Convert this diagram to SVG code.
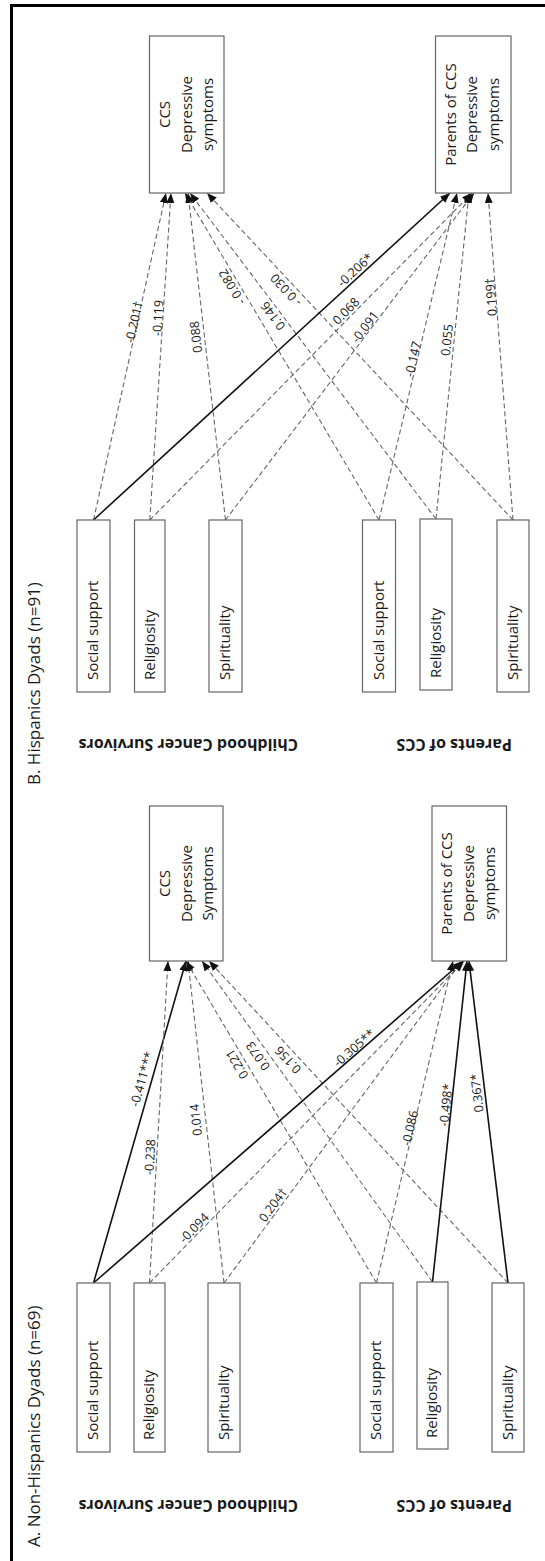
<svg xmlns="http://www.w3.org/2000/svg" width="545" height="1561" viewBox="0 0 545 1561">
<defs>
<marker id="arr" markerUnits="userSpaceOnUse" markerWidth="11" markerHeight="9" refX="10" refY="4" orient="auto">
<path d="M0,0 L10,4 L0,8 z" fill="#111"/>
</marker>
<style>
.box{fill:#fff;stroke:#666;stroke-width:1.2}
.nt{font-family:"Open Sans","DejaVu Sans",sans-serif;font-size:15px;fill:#1a1a1a}
.gl{font-family:"Open Sans","DejaVu Sans",sans-serif;font-size:16px;font-weight:bold;fill:#1a1a1a}
.ti{font-family:"Open Sans","DejaVu Sans",sans-serif;font-size:17px;fill:#1a1a1a}
.lb{font-family:"Open Sans","DejaVu Sans",sans-serif;font-size:12.5px;fill:#1a1a1a;text-anchor:middle}
.d{fill:none;stroke:#666;stroke-width:1.1;stroke-dasharray:5 3;marker-end:url(#arr)}
.s{fill:none;stroke:#111;stroke-width:1.6;marker-end:url(#arr)}
</style>
</defs>
<rect width="545" height="1561" fill="#fff"/>
<path d="M11.5,1561 V5.5 H545" fill="none" stroke="#000" stroke-width="3"/>

<!-- titles -->
<text class="ti" transform="translate(40,785) rotate(-90)">B. Hispanics Dyads (n=91)</text>
<text class="ti" transform="translate(40,1547) rotate(-90)">A. Non-Hispanics Dyads (n=69)</text>

<!-- group labels -->
<text class="gl" transform="translate(298,739) rotate(180)">Childhood Cancer Survivors</text>
<text class="gl" transform="translate(512,739) rotate(180)">Parents of CCS</text>
<text class="gl" transform="translate(298,1500) rotate(180)">Childhood Cancer Survivors</text>
<text class="gl" transform="translate(512,1500) rotate(180)">Parents of CCS</text>

<!-- connectors -->
<g id="connectors">
<path class="d" d="M93.5,520 L166,193"/>
<path class="d" d="M149.8,520 L171,193"/>
<path class="d" d="M225.5,520 L188,193"/>
<path class="d" d="M379,520 L185,193"/>
<path class="d" d="M436,519 L190,193"/>
<path class="d" d="M513,520 L207,193"/>
<path class="s" d="M93.5,520 L450,193"/>
<path class="d" d="M149.8,520 L472,193"/>
<path class="d" d="M225.5,520 L474,193"/>
<path class="d" d="M379,520 L457,193"/>
<path class="d" d="M436,519 L469,193"/>
<path class="d" d="M513,520 L488,193"/>

<path class="s" d="M93.5,1283 L186,961"/>
<path class="d" d="M149.5,1283 L168,961"/>
<path class="d" d="M224,1283 L188,961"/>
<path class="d" d="M376.5,1283 L186,961"/>
<path class="d" d="M432.5,1282 L202,961"/>
<path class="d" d="M508,1283 L209,961"/>
<path class="s" d="M93.5,1283 L463,961"/>
<path class="d" d="M149.5,1283 L464,961"/>
<path class="d" d="M224,1283 L462,961"/>
<path class="d" d="M376.5,1283 L453,961"/>
<path class="s" d="M432.5,1282 L467,961"/>
<path class="s" d="M508,1283 L469,961"/>

<g id="edge-labels">
<text class="lb" dy="0.35em" transform="translate(134,322) rotate(-77.6)">-0.201†</text>
<text class="lb" dy="0.35em" transform="translate(158,318) rotate(-86.3)">-0.119</text>
<text class="lb" dy="0.35em" transform="translate(196,337) rotate(-96.6)">0.088</text>
<text class="lb" dy="0.35em" transform="translate(232,287) rotate(-121.3)">- 0.082</text>
<text class="lb" dy="0.35em" transform="translate(273,316) rotate(-127)">0.146</text>
<text class="lb" dy="0.35em" transform="translate(286,290) rotate(-133.1)">- 0.030</text>
<text class="lb" dy="0.35em" transform="translate(355,270) rotate(-42.6)">-0.206*</text>
<text class="lb" dy="0.35em" transform="translate(346,311) rotate(-45.4)">0.068</text>
<text class="lb" dy="0.35em" transform="translate(365,327) rotate(-52.8)">-0.091</text>
<text class="lb" dy="0.35em" transform="translate(413,359) rotate(-77.4)">-0.147</text>
<text class="lb" dy="0.35em" transform="translate(447,340) rotate(-84.2)">0.055</text>
<text class="lb" dy="0.35em" transform="translate(491,297) rotate(-94.4)">0.199†</text>

<text class="lb" dy="0.35em" transform="translate(142,1079) rotate(-74.1)">-0.411***</text>
<text class="lb" dy="0.35em" transform="translate(150,1157) rotate(-86.8)">-0.238</text>
<text class="lb" dy="0.35em" transform="translate(196,1120) rotate(-96.4)">0.014</text>
<text class="lb" dy="0.35em" transform="translate(237,1064) rotate(-121.1)">0.221</text>
<text class="lb" dy="0.35em" transform="translate(258,1056) rotate(-125.7)">0.073</text>
<text class="lb" dy="0.35em" transform="translate(288,1060) rotate(-132.8)">0.156</text>
<text class="lb" dy="0.35em" transform="translate(354,1048) rotate(-41.1)">-0.305**</text>
<text class="lb" dy="0.35em" transform="translate(194,1228) rotate(-45.7)">-0.094</text>
<text class="lb" dy="0.35em" transform="translate(273,1205) rotate(-53.5)">0.204†</text>
<text class="lb" dy="0.35em" transform="translate(410,1128) rotate(-77.2)">-0.086</text>
<text class="lb" dy="0.35em" transform="translate(446,1105) rotate(-84)">-0.498*</text>
<text class="lb" dy="0.35em" transform="translate(477,1093) rotate(-96.7)">0.367*</text>
</g>
</g>

<!-- B targets -->
<g id="b-ccs-dep">
<rect class="box" x="149.5" y="36" width="74.5" height="157"/>
<text class="nt" text-anchor="middle" transform="translate(170,114.5) rotate(-90)">CCS</text>
<text class="nt" text-anchor="middle" transform="translate(191.5,114.5) rotate(-90)">Depressive</text>
<text class="nt" text-anchor="middle" transform="translate(213,114.5) rotate(-90)">symptoms</text>
</g>
<g id="b-par-dep">
<rect class="box" x="435.5" y="36" width="75.5" height="157"/>
<text class="nt" text-anchor="middle" transform="translate(455.5,114.5) rotate(-90)">Parents of CCS</text>
<text class="nt" text-anchor="middle" transform="translate(477,114.5) rotate(-90)">Depressive</text>
<text class="nt" text-anchor="middle" transform="translate(498.5,114.5) rotate(-90)">symptoms</text>
</g>
<!-- B sources -->
<g id="b-ccs-ss"><rect class="box" x="77" y="520" width="33" height="172"/><text class="nt" transform="translate(98,680) rotate(-90)">Social support</text></g>
<g id="b-ccs-rel"><rect class="box" x="134.5" y="520" width="30.5" height="172"/><text class="nt" transform="translate(154.5,680) rotate(-90)">Religiosity</text></g>
<g id="b-ccs-spir"><rect class="box" x="209" y="520" width="33" height="172"/><text class="nt" transform="translate(230,680) rotate(-90)">Spirituality</text></g>
<g id="b-par-ss"><rect class="box" x="362.5" y="520" width="33" height="172"/><text class="nt" transform="translate(383.5,680) rotate(-90)">Social support</text></g>
<g id="b-par-rel"><rect class="box" x="420" y="519" width="32" height="171"/><text class="nt" transform="translate(440.5,678) rotate(-90)">Religiosity</text></g>
<g id="b-par-spir"><rect class="box" x="497" y="520" width="32" height="172"/><text class="nt" transform="translate(517.5,680) rotate(-90)">Spirituality</text></g>

<!-- A targets -->
<g id="a-ccs-dep">
<rect class="box" x="149.5" y="806" width="73.5" height="155"/>
<text class="nt" text-anchor="middle" transform="translate(170,883.5) rotate(-90)">CCS</text>
<text class="nt" text-anchor="middle" transform="translate(191.5,883.5) rotate(-90)">Depressive</text>
<text class="nt" text-anchor="middle" transform="translate(213,883.5) rotate(-90)">Symptoms</text>
</g>
<g id="a-par-dep">
<rect class="box" x="432" y="806" width="74.5" height="155"/>
<text class="nt" text-anchor="middle" transform="translate(452,883.5) rotate(-90)">Parents of CCS</text>
<text class="nt" text-anchor="middle" transform="translate(473.5,883.5) rotate(-90)">Depressive</text>
<text class="nt" text-anchor="middle" transform="translate(495,883.5) rotate(-90)">symptoms</text>
</g>
<!-- A sources -->
<g id="a-ccs-ss"><rect class="box" x="77" y="1283" width="33" height="169"/><text class="nt" transform="translate(98,1440) rotate(-90)">Social support</text></g>
<g id="a-ccs-rel"><rect class="box" x="134" y="1283" width="31" height="169"/><text class="nt" transform="translate(154,1440) rotate(-90)">Religiosity</text></g>
<g id="a-ccs-spir"><rect class="box" x="208" y="1283" width="32" height="169"/><text class="nt" transform="translate(228.5,1440) rotate(-90)">Spirituality</text></g>
<g id="a-par-ss"><rect class="box" x="360" y="1283" width="33" height="169"/><text class="nt" transform="translate(381,1440) rotate(-90)">Social support</text></g>
<g id="a-par-rel"><rect class="box" x="417" y="1282" width="31" height="167"/><text class="nt" transform="translate(437,1438) rotate(-90)">Religiosity</text></g>
<g id="a-par-spir"><rect class="box" x="492" y="1283" width="32" height="169"/><text class="nt" transform="translate(512.5,1440) rotate(-90)">Spirituality</text></g>
</svg>
